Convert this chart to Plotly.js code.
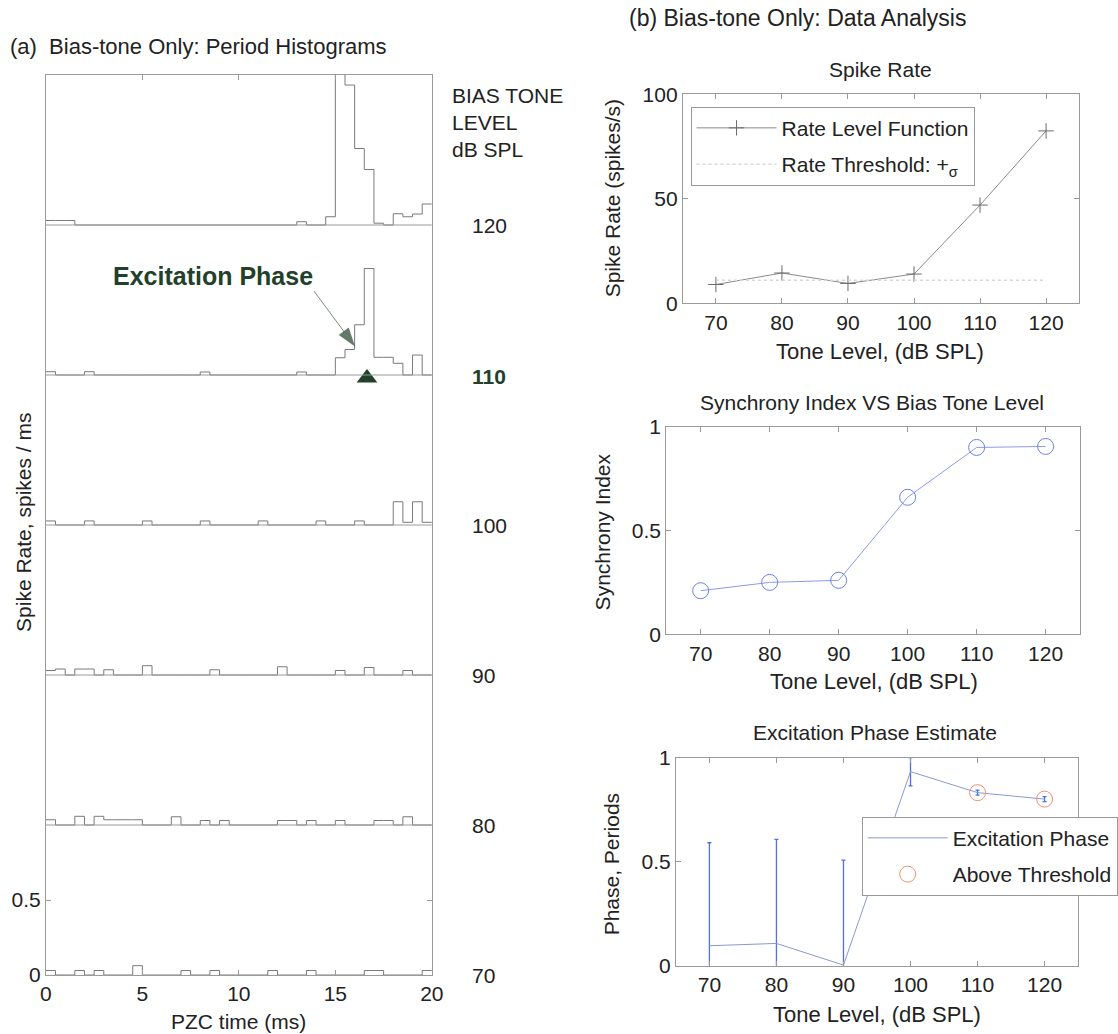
<!DOCTYPE html>
<html><head><meta charset="utf-8">
<script src="https://cdn.plot.ly/plotly-3.0.1.min.js"></script>
<style>html,body{margin:0;padding:0;background:#fff;}#chart{width:1118px;height:1034px;}</style>
</head><body><div id="chart"></div>
<script>
// ---------- DATA ----------
// Period histograms: 0.5 ms bins over one 20 ms period (spikes / ms)
const binStart = [0,0.5,1,1.5,2,2.5,3,3.5,4,4.5,5,5.5,6,6.5,7,7.5,8,8.5,9,9.5,
                  10,10.5,11,11.5,12,12.5,13,13.5,14,14.5,15,15.5,16,16.5,17,17.5,18,18.5,19,19.5];
const periodMs = 20;
const histLevels = [70, 80, 90, 100, 110, 120];
const hist70  = [.03,0,0,.03,0,.03,0,0,0,.062, 0,0,0,0,.03,0,0,.03,0,0, 0,0,0,.03,0,0,0,.03,0,0, 0,0,0,.03,.03,0,0,0,0,.03];
const hist80  = [.035,0,0,.058,0,.058,.035,.035,.035,.035, 0,0,0,.055,0,0,.03,0,.03,0, 0,0,0,0,.03,.03,0,.03,0,0, .03,0,0,0,.03,.03,0,.055,0,0];
const hist90  = [.03,.04,0,.04,.04,0,.035,0,0,0, .062,0,0,0,0,0,0,.035,0,0, 0,0,0,0,.055,0,0,0,0,0, .03,0,0,.05,0,0,0,.03,0,0];
const hist100 = [.027,0,0,0,.027,0,0,0,0,0, .027,0,0,0,0,0,.027,0,0,0, 0,0,.027,0,0,0,0,0,.027,0, 0,0,.027,0,0,0,.155,.018,.155,.018];
const hist110 = [.022,0,0,0,.022,0,0,0,0,0, 0,0,0,0,0,0,.02,0,0,0, 0,0,0,0,0,0,.02,0,0,0, .115,.17,.335,.71,.118,.118,.078,0,.133,0];
const hist120 = [.03,.03,.03,0,0,0,0,0,0,0, 0,0,0,0,0,0,0,0,0,0, 0,0,0,0,0,0,.022,0,0,.055, 1.3,.933,.51,.37,.012,0,.075,.055,.073,.14];
const histByLevel = [hist70, hist80, hist90, hist100, hist110, hist120];

// Data analysis
const toneLevels = [70, 80, 90, 100, 110, 120];
const spikeRate  = [9, 14.5, 9.5, 14, 47, 82.5];
const rateThreshold = 11;
const syncIndex  = [0.21, 0.25, 0.26, 0.66, 0.90, 0.905];
const phase      = [0.096, 0.107, 0.003, 0.933, 0.832, 0.801];
const phaseErr   = [0.495, 0.50, 0.505, 0.068, 0.012, 0.012];
const aboveThresholdIdx = [4, 5];
const markedLevel = 110;

// ---------- LAYOUT HELPERS ----------
const W = 1118, H = 1034;
const FONT = 'Liberation Sans, Arial, Helvetica, sans-serif';
const GREEN = '#22402a';
const AX = '#9a9a9a';
const px = v => v / W, py = v => 1 - v / H;

function ann(text, x, y, o) {
  o = o || {};
  return Object.assign({
    xref: 'paper', yref: 'paper', x: px(x), y: py(y), text: text,
    showarrow: false, xanchor: o.xa || 'center', yanchor: 'middle',
    font: { family: FONT, size: o.size || 21, color: o.color || '#222' }
  }, o.extra || {});
}

function axisBase(extra) {
  return Object.assign({
    showline: true, mirror: 'ticks', linecolor: AX, linewidth: 1,
    ticks: 'inside', ticklen: 5, tickcolor: AX, tickwidth: 1,
    showgrid: false, zeroline: false, fixedrange: true,
    tickfont: { family: FONT, size: 21, color: '#222' }
  }, extra);
}

const traces = [];

// Period histograms, stacked with one unit per level
histLevels.forEach((lvl, k) => {
  const vals = histByLevel[k];
  const xs = binStart.concat([periodMs]);
  const ys = vals.map(v => k + v).concat([k + vals[vals.length - 1]]);
  traces.push({
    type: 'scatter', mode: 'lines', x: xs, y: ys, xaxis: 'x', yaxis: 'y',
    line: { shape: 'hv', color: '#7a7a7a', width: 1 },
    showlegend: false, hoverinfo: 'skip', cliponaxis: true
  });
});

// excitation phase marker at 110 dB and its pointer arrow
const mIdx = toneLevels.indexOf(markedLevel);
const mRow = histLevels.indexOf(markedLevel);
const mX = phase[mIdx] * periodMs;
traces.push({
  type: 'scatter', mode: 'lines+markers', xaxis: 'x', yaxis: 'y',
  x: [mX - 2.75, mX - 0.62], y: [mRow + 0.56, mRow + 0.19],
  line: { color: '#7d8a80', width: 1 },
  marker: { symbol: 'arrow', angleref: 'previous', size: [0, 20], color: GREEN, line: { width: 0 } },
  showlegend: false, cliponaxis: false
});
traces.push({
  type: 'scatter', mode: 'markers', xaxis: 'x', yaxis: 'y',
  x: [mX], y: [mRow - 0.02],
  marker: { symbol: 'triangle-up', size: 18, color: GREEN },
  showlegend: false, cliponaxis: false
});

// Spike rate
traces.push({
  type: 'scatter', mode: 'lines+markers', name: 'Rate Level Function',
  x: toneLevels, y: spikeRate, xaxis: 'x2', yaxis: 'y2', legend: 'legend', legendgroup: 'r1',
  line: { color: '#8a8a8a', width: 1 },
  marker: { symbol: 'cross-thin', size: 11, line: { color: '#6a6a6a', width: 1 } }
});
traces.push({
  type: 'scatter', mode: 'lines', name: 'Rate Threshold: +<sub>σ</sub>',
  x: toneLevels, y: toneLevels.map(() => rateThreshold), xaxis: 'x2', yaxis: 'y2', legend: 'legend', legendgroup: 'r2',
  line: { color: '#d6d6d6', width: 1.5, dash: 'dot' }
});

// Synchrony
traces.push({
  type: 'scatter', mode: 'lines+markers', x: toneLevels, y: syncIndex,
  xaxis: 'x3', yaxis: 'y3', showlegend: false,
  line: { color: '#8c9bea', width: 1 },
  marker: { symbol: 'circle-open', size: 16, color: '#6c7fe6', line: { width: 1 } }
});

// Phase
traces.push({
  type: 'scatter', mode: 'lines', name: 'Excitation Phase',
  x: toneLevels, y: phase, xaxis: 'x4', yaxis: 'y4', legend: 'legend2', legendgroup: 'p1',
  line: { color: '#8898d6', width: 1 },
  error_y: { type: 'data', array: phaseErr, visible: true, color: '#4f70e0', thickness: 1.3, width: 2 }
});
traces.push({
  type: 'scatter', mode: 'markers', name: 'Above Threshold',
  x: aboveThresholdIdx.map(i => toneLevels[i]), y: aboveThresholdIdx.map(i => phase[i]),
  xaxis: 'x4', yaxis: 'y4', legend: 'legend2', legendgroup: 'p2',
  marker: { symbol: 'circle-open', size: 16, color: '#f0906e', line: { width: 1 } }
});

// separator lines between stacked histograms
const shapes = histLevels.slice(1).map((lvl, k) => ({
  type: 'line', xref: 'x', yref: 'y', x0: 0, x1: periodMs, y0: k + 1, y1: k + 1,
  line: { color: '#9a9a9a', width: 1 }
}));

const levelLabelY = [975, 825, 675, 525, 376, 225];
const annotations = [
  ann('(a)  Bias-tone Only: Period Histograms', 8, 47, { xa: 'left', size: 22 }),
  ann('(b) Bias-tone Only: Data Analysis', 800, 18, { size: 23 }),
  ann('BIAS TONE', 451, 96, { xa: 'left', size: 21 }),
  ann('LEVEL', 451, 122.5, { xa: 'left', size: 21 }),
  ann('dB SPL', 451, 149, { xa: 'left', size: 21 }),
  ann('Spike Rate, spikes / ms', 23, 522, { size: 21, extra: { textangle: -90 } }),
  ann('PZC time (ms)', 239, 1021, { size: 21 }),
  ann('<b>Excitation Phase</b>', 111, 276, { xa: 'left', size: 25, color: GREEN }),
  ann('Spike Rate', 883, 70),
  ann('Tone Level, (dB SPL)', 882, 351, { size: 22 }),
  ann('Spike Rate (spikes/s)', 615, 198, { extra: { textangle: -90 } }),
  ann('Synchrony Index VS Bias Tone Level', 874, 402),
  ann('Tone Level, (dB SPL)', 876, 681, { size: 22 }),
  ann('Synchrony Index', 604, 532, { extra: { textangle: -90 } }),
  ann('Excitation Phase Estimate', 877, 732),
  ann('Tone Level, (dB SPL)', 879, 1014, { size: 22 }),
  ann('Phase, Periods', 613, 864, { extra: { textangle: -90 } })
];
histLevels.forEach((lvl, k) => {
  const bold = lvl === markedLevel;
  annotations.push(ann(bold ? '<b>' + lvl + '</b>' : String(lvl), 471, levelLabelY[k],
    { xa: 'left', size: 21, color: bold ? GREEN : '#222' }));
});

const legendBase = {
  xanchor: 'left', yanchor: 'top', bgcolor: '#fff', bordercolor: '#999', borderwidth: 1,
  font: { family: FONT, size: 21, color: '#222' }, itemwidth: 80, tracegroupgap: 6
};

const layout = {
  width: W, height: H, margin: { l: 0, r: 0, t: 0, b: 0 },
  paper_bgcolor: '#fff', plot_bgcolor: 'rgba(0,0,0,0)',
  font: { family: FONT, size: 21, color: '#222' },
  showlegend: true, hovermode: false,
  xaxis: axisBase({ domain: [px(46), px(433)], range: [0, periodMs], anchor: 'y',
    tickvals: [0, 5, 10, 15, 20] }),
  yaxis: axisBase({ domain: [py(975), py(75)], range: [0, histLevels.length], anchor: 'x',
    tickvals: [0, 0.5], ticktext: ['0', '0.5'] }),
  xaxis2: axisBase({ domain: [px(684.7), px(1082)], range: [65, 125], anchor: 'y2', tickvals: toneLevels }),
  yaxis2: axisBase({ domain: [py(303.3), py(94.3)], range: [0, 100], anchor: 'x2', tickvals: [0, 50, 100] }),
  xaxis3: axisBase({ domain: [px(668), px(1083)], range: [65, 125], anchor: 'y3', tickvals: toneLevels }),
  yaxis3: axisBase({ domain: [py(634.3), py(426.7)], range: [0, 1], anchor: 'x3', tickvals: [0, 0.5, 1] }),
  xaxis4: axisBase({ domain: [px(677.7), px(1081)], range: [65, 125], anchor: 'y4', tickvals: toneLevels }),
  yaxis4: axisBase({ domain: [py(965.7), py(757.7)], range: [0, 1], anchor: 'x4', tickvals: [0, 0.5, 1] }),
  legend: Object.assign({ x: px(692.4), y: py(106.7) }, legendBase),
  legend2: Object.assign({ x: px(864), y: py(816.7) }, legendBase),
  shapes: shapes, annotations: annotations
};

Plotly.newPlot('chart', traces, layout, { staticPlot: true, displayModeBar: false });
</script></body></html>
